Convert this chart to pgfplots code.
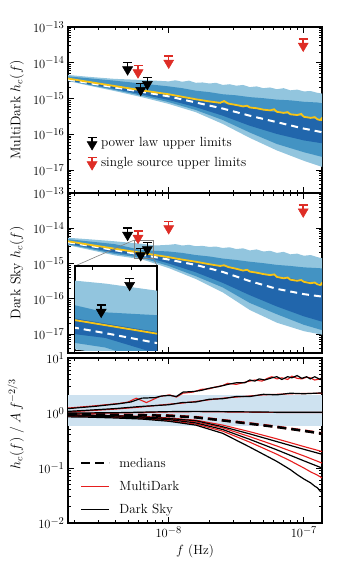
\RequirePackage{fix-cm}
\documentclass[border=0pt]{standalone}
\usepackage{pgfplots}
\usepackage{pgfplotstable}
\pgfplotsset{compat=1.18}

\definecolor{bandlight}{RGB}{146,197,222}
\definecolor{bandmid}{RGB}{67,147,195}
\definecolor{banddark}{RGB}{33,102,172}
\definecolor{gold}{RGB}{248,196,20}
\definecolor{limred}{RGB}{222,45,38}
\definecolor{mdred}{RGB}{230,30,30}
\definecolor{ratioband}{RGB}{206,226,240}

\newcommand{\fsz}{\fontsize{13.3}{16}\selectfont}
\newcommand{\lsz}{\fontsize{14}{17}\selectfont}
% tick label 10^n with a slightly larger exponent
\newcommand{\tk}[1]{\fontsize{12.5}{14}\selectfont$10^{\mbox{\fontsize{10.5}{11}\selectfont$#1$}}$}

% upper-limit marker: cap at the value, arrow head below
\pgfdeclareplotmark{ulim}{%
  \pgfsetlinewidth{1.5pt}%
  \pgfpathmoveto{\pgfqpoint{-4.5pt}{0pt}}\pgfpathlineto{\pgfqpoint{4.5pt}{0pt}}%
  \pgfpathmoveto{\pgfqpoint{0pt}{0pt}}\pgfpathlineto{\pgfqpoint{0pt}{-5pt}}%
  \pgfusepathqstroke
  \pgfsetlinewidth{0.5pt}%
  \pgfpathmoveto{\pgfqpoint{-5pt}{-4pt}}\pgfpathlineto{\pgfqpoint{5pt}{-4pt}}%
  \pgfpathlineto{\pgfqpoint{0pt}{-12.5pt}}\pgfpathclose
  \pgfusepathqfillstroke}
\newcommand{\ulimimg}[1]{%
  \path[draw=none,fill=none] (0pt,-6pt) rectangle (22pt,6pt);
  \draw[#1,line width=1.5pt] (10.5pt,5pt) -- (19.5pt,5pt) (15pt,5pt) -- (15pt,0pt);
  \filldraw[#1,line width=0.5pt] (10pt,1pt) -- (20pt,1pt) -- (15pt,-7.5pt) -- cycle;}

\pgfplotsset{
  hcbase/.style={scale only axis, width=254pt,
    xmin=-8.745, xmax=-6.866, xtick={-8,-7},
    minor xtick={-8.699,-8.523,-8.398,-8.301,-8.222,-8.155,-8.097,-8.046,
                 -7.699,-7.523,-7.398,-7.301,-7.222,-7.155,-7.097,-7.046},
    major tick length=6pt, minor tick length=3pt,
    tick style={black,line width=0.8pt}, axis line style={line width=1.2pt},
    every axis y label/.style={at={(axis description cs:-0.16,0.5)},rotate=90,anchor=south},
  },
  hclog/.style={ytick={-17,-16,-15,-14,-13},
    yticklabels={\tk{-17},\tk{-16},\tk{-15},\tk{-14},\tk{-13}},
    minor ytick={-17.699,-17.523,-17.398,-17.301,-17.222,-17.155,-17.097,-17.046,
      -16.699,-16.523,-16.398,-16.301,-16.222,-16.155,-16.097,-16.046,
      -15.699,-15.523,-15.398,-15.301,-15.222,-15.155,-15.097,-15.046,
      -14.699,-14.523,-14.398,-14.301,-14.222,-14.155,-14.097,-14.046,
      -13.699,-13.523,-13.398,-13.301,-13.222,-13.155,-13.097,-13.046},
  },
}

% log10 f, log10 h_c ; bands are closed polygons (upper edge, then lower edge back)
\pgfplotstableread{
x y
-8.745 -14.34
-8.6 -14.39
-8.4 -14.45
-8.2 -14.48
-8.1 -14.50
-8.0 -14.52
-7.95 -14.49
-7.9 -14.53
-7.85 -14.50
-7.8 -14.56
-7.75 -14.55
-7.7 -14.58
-7.65 -14.56
-7.6 -14.62
-7.55 -14.60
-7.5 -14.64
-7.45 -14.62
-7.4 -14.68
-7.35 -14.66
-7.3 -14.71
-7.25 -14.69
-7.2 -14.74
-7.15 -14.71
-7.1 -14.77
-7.05 -14.75
-7.0 -14.80
-6.95 -14.79
-6.9 -14.84
-6.866 -14.86
-6.866 -16.91
-7.0 -16.74
-7.2 -16.45
-7.4 -16.10
-7.6 -15.71
-7.8 -15.38
-8.0 -15.15
-8.2 -14.96
-8.4 -14.79
-8.6 -14.63
-8.745 -14.51
}\mdLight
\pgfplotstableread{
x y
-8.745 -14.38
-8.6 -14.43
-8.4 -14.50
-8.2 -14.58
-8.0 -14.66
-7.9 -14.71
-7.8 -14.78
-7.7 -14.82
-7.6 -14.88
-7.5 -14.91
-7.4 -14.96
-7.3 -14.99
-7.2 -15.03
-7.1 -15.05
-7.0 -15.09
-6.9 -15.11
-6.866 -15.13
-6.866 -16.63
-7.0 -16.50
-7.2 -16.27
-7.4 -15.95
-7.6 -15.60
-7.8 -15.32
-8.0 -15.10
-8.2 -14.92
-8.4 -14.76
-8.6 -14.61
-8.745 -14.50
}\mdMid
\pgfplotstableread{
x y
-8.745 -14.43
-8.6 -14.52
-8.4 -14.64
-8.2 -14.76
-8.0 -14.87
-7.8 -15.01
-7.6 -15.13
-7.4 -15.26
-7.2 -15.39
-7.0 -15.51
-6.866 -15.61
-6.866 -16.25
-7.0 -16.17
-7.2 -15.99
-7.4 -15.76
-7.6 -15.48
-7.8 -15.24
-8.0 -15.04
-8.2 -14.88
-8.4 -14.73
-8.6 -14.59
-8.745 -14.49
}\mdDark
\pgfplotstableread{
x y
-8.745 -14.47
-8.6 -14.56
-8.4 -14.69
-8.2 -14.81
-8.0 -14.94
-7.8 -15.11
-7.6 -15.28
-7.4 -15.48
-7.2 -15.66
-7.0 -15.84
-6.866 -15.94
}\mdMed
\pgfplotstableread{
x y
-8.745 -14.44
-8.6 -14.53
-8.4 -14.65
-8.2 -14.77
-8.0 -14.88
-7.9 -14.95
-7.8 -15.02
-7.7 -15.08
-7.62 -15.12
-7.59 -15.07
-7.56 -15.14
-7.5 -15.18
-7.45 -15.22
-7.42 -15.20
-7.4 -15.25
-7.35 -15.27
-7.3 -15.31
-7.25 -15.33
-7.22 -15.30
-7.2 -15.37
-7.15 -15.40
-7.12 -15.38
-7.1 -15.44
-7.05 -15.46
-7.02 -15.43
-7.0 -15.51
-6.95 -15.54
-6.92 -15.52
-6.9 -15.58
-6.88 -15.60
-6.87 -15.56
-6.866 -15.62
}\mdGold

\pgfplotstableread{
x y
-8.745 -14.27
-8.6 -14.31
-8.4 -14.37
-8.2 -14.44
-8.1 -14.49
-8.0 -14.47
-7.95 -14.45
-7.9 -14.49
-7.85 -14.47
-7.8 -14.51
-7.75 -14.50
-7.7 -14.53
-7.65 -14.52
-7.6 -14.56
-7.55 -14.54
-7.5 -14.59
-7.45 -14.57
-7.4 -14.63
-7.35 -14.60
-7.3 -14.66
-7.25 -14.64
-7.2 -14.70
-7.15 -14.67
-7.1 -14.74
-7.05 -14.72
-7.0 -14.78
-6.95 -14.76
-6.9 -14.82
-6.866 -14.85
-6.866 -17.02
-7.0 -16.92
-7.2 -16.68
-7.4 -16.32
-7.6 -15.82
-7.8 -15.44
-8.0 -15.13
-8.2 -14.88
-8.4 -14.77
-8.6 -14.60
-8.745 -14.48
}\dsLight
\pgfplotstableread{
x y
-8.745 -14.31
-8.6 -14.37
-8.4 -14.45
-8.2 -14.62
-8.0 -14.66
-7.9 -14.70
-7.8 -14.76
-7.7 -14.80
-7.6 -14.86
-7.5 -14.90
-7.4 -14.95
-7.3 -14.99
-7.2 -15.04
-7.1 -15.07
-7.0 -15.11
-6.9 -15.13
-6.866 -15.14
-6.866 -16.89
-7.0 -16.74
-7.2 -16.44
-7.4 -16.12
-7.6 -15.68
-7.8 -15.36
-8.0 -15.07
-8.2 -14.84
-8.4 -14.73
-8.6 -14.57
-8.745 -14.46
}\dsMid
\pgfplotstableread{
x y
-8.745 -14.36
-8.6 -14.45
-8.4 -14.57
-8.2 -14.69
-8.0 -14.81
-7.8 -14.94
-7.6 -15.08
-7.4 -15.22
-7.2 -15.36
-7.0 -15.49
-6.866 -15.58
-6.866 -16.65
-7.0 -16.50
-7.2 -16.22
-7.4 -15.90
-7.6 -15.55
-7.8 -15.25
-8.0 -15.00
-8.2 -14.78
-8.4 -14.69
-8.6 -14.54
-8.745 -14.44
}\dsDark
\pgfplotstableread{
x y
-8.745 -14.40
-8.6 -14.49
-8.4 -14.62
-8.2 -14.75
-8.0 -14.89
-7.8 -15.04
-7.6 -15.24
-7.4 -15.50
-7.2 -15.72
-7.0 -15.87
-6.866 -15.94
}\dsMed
\pgfplotstableread{
x y
-8.745 -14.37
-8.6 -14.46
-8.4 -14.58
-8.2 -14.70
-8.0 -14.82
-7.9 -14.89
-7.8 -14.95
-7.7 -15.02
-7.62 -15.07
-7.59 -15.05
-7.56 -15.10
-7.5 -15.15
-7.45 -15.20
-7.42 -15.18
-7.4 -15.23
-7.35 -15.26
-7.3 -15.30
-7.25 -15.33
-7.22 -15.31
-7.2 -15.38
-7.15 -15.42
-7.12 -15.40
-7.1 -15.46
-7.05 -15.49
-7.02 -15.47
-7.0 -15.52
-6.95 -15.56
-6.92 -15.54
-6.9 -15.59
-6.88 -15.61
-6.87 -15.57
-6.866 -15.62
}\dsGold

% upper limits (log10 f, log10 h_c)
\pgfplotstableread{
x y
-8.304 -13.999
-8.207 -14.575
-8.158 -14.407
}\plLim
\pgfplotstableread{
x y
-8.227 -14.083
-8.0 -13.811
-7.005 -13.336
}\ssLim

\begin{document}
\begin{tikzpicture}
\useasboundingbox (0,0) rectangle (339pt,-569pt);

% ---------------- MultiDark
\begin{axis}[hcbase, hclog, at={(68pt,-193pt)}, anchor=south west,
    height=166pt, ymin=-17.64, ymax=-13, xticklabels={},
    ylabel={\lsz MultiDark $h_c(f)$},
    legend style={at={(axis description cs:0.035,0.135)}, anchor=south west,
      draw=none, fill=none, font=\fsz, row sep=5pt, inner sep=0pt},
    legend cell align=left]
\addplot[fill=bandlight, draw=none, forget plot] table {\mdLight} -- cycle;
\addplot[fill=bandmid, draw=none, forget plot] table {\mdMid} -- cycle;
\addplot[fill=banddark, draw=none, forget plot] table {\mdDark} -- cycle;
\addplot[white, line width=2pt, dash pattern=on 7pt off 5pt, forget plot] table {\mdMed};
\addplot[gold, line width=1.8pt, forget plot] table {\mdGold};
\addplot[only marks, mark=ulim, mark options={draw=black,fill=black}, forget plot] table {\plLim};
\addplot[only marks, mark=ulim, mark options={draw=limred,fill=limred}, forget plot] table {\ssLim};
\addlegendimage{legend image code/.code={\ulimimg{black}}}
\addlegendentry{power law upper limits}
\addlegendimage{legend image code/.code={\ulimimg{limred}}}
\addlegendentry{single source upper limits}
\end{axis}

% ---------------- Dark Sky
\begin{axis}[hcbase, hclog, at={(68pt,-353pt)}, anchor=south west,
    height=160pt, ymin=-17.54, ymax=-13, xticklabels={},
    ylabel={\lsz Dark Sky $h_c(f)$}]
\addplot[fill=bandlight, draw=none] table {\dsLight} -- cycle;
\addplot[fill=bandmid, draw=none] table {\dsMid} -- cycle;
\addplot[fill=banddark, draw=none] table {\dsDark} -- cycle;
\addplot[white, line width=2pt, dash pattern=on 7pt off 5pt] table {\dsMed};
\addplot[gold, line width=1.8pt] table {\dsGold};
\addplot[only marks, mark=ulim, mark options={draw=black,fill=black}] table {\plLim};
\addplot[only marks, mark=ulim, mark options={draw=limred,fill=limred}] table {\ssLim};
\draw[gray, line width=0.6pt] (axis cs:-8.252,-14.33) rectangle (axis cs:-8.111,-14.86);
\coordinate (rA) at (axis cs:-8.252,-14.33);
\coordinate (rB) at (axis cs:-8.111,-14.86);
\end{axis}
\draw[gray, line width=0.6pt] (rA) -- (75pt,-266pt);
\draw[gray, line width=0.6pt] (rB) -- (157pt,-266pt);

% ---------------- inset
\begin{axis}[at={(75pt,-350.7pt)}, anchor=south west, scale only axis,
    width=82pt, height=84.7pt, xmin=-8.252, xmax=-8.111, ymin=-14.86, ymax=-14.33,
    xtick={-8.222,-8.155}, ytick={-14.699,-14.523}, xticklabels={}, yticklabels={},
    major tick length=4pt, tick style={black,line width=0.8pt},
    axis line style={line width=1.2pt},
    axis background/.style={fill=white}, clip marker paths=true]
\addplot[fill=bandlight, draw=none] table {\dsLight} -- cycle;
\addplot[fill=bandmid, draw=none] table {\dsMid} -- cycle;
\addplot[fill=banddark, draw=none] table {\dsDark} -- cycle;
\addplot[white, line width=2pt, dash pattern=on 7pt off 5pt] table {\dsMed};
\addplot[gold, line width=1.8pt] table {\dsGold};
\addplot[only marks, mark=ulim, mark options={draw=black,fill=black}] table {\plLim};
\end{axis}

% ---------------- ratio panel
\begin{axis}[hcbase, at={(68pt,-523pt)}, anchor=south west,
    height=165pt, ymin=-2, ymax=1,
    ytick={-2,-1,0,1}, yticklabels={\tk{-2},\tk{-1},\tk{0},\tk{1}},
    minor ytick={-1.699,-1.523,-1.398,-1.301,-1.222,-1.155,-1.097,-1.046,
      -0.699,-0.523,-0.398,-0.301,-0.222,-0.155,-0.097,-0.046,
      0.301,0.477,0.602,0.699,0.778,0.845,0.903,0.954},
    xticklabels={\tk{-8},\tk{-7}},
    xlabel={\fsz $f$ (Hz)},
    ylabel={\lsz $h_c(f)\;/\;A\,f^{-2/3}$},
    ylabel style={at={(axis description cs:-0.16,0.6)}},
    legend style={at={(axis description cs:0.047,0.034)}, anchor=south west,
      draw=none, fill=none, font=\fsz, row sep=8.5pt, inner sep=0pt},
    legend cell align=left,
    legend image code/.code={\draw[#1] (0pt,0pt) -- (28pt,0pt); \path[draw=none] (0pt,0pt) -- (36pt,0pt);}]
\addplot[fill=ratioband, draw=none, forget plot] coordinates {(-8.745,-0.23) (-6.866,-0.23) (-6.866,0.33) (-8.745,0.33)} -- cycle;
% MultiDark
\addplot[mdred, line width=1.1pt, forget plot] coordinates {(-8.745,0.09) (-8.55,0.13) (-8.363,0.175) (-8.30,0.20) (-8.24,0.27) (-8.165,0.19) (-8.067,0.30) (-7.993,0.33) (-7.943,0.29) (-7.894,0.36) (-7.82,0.38) (-7.76,0.43) (-7.70,0.44) (-7.659,0.47) (-7.60,0.50) (-7.563,0.54) (-7.50,0.52) (-7.437,0.56) (-7.40,0.58) (-7.363,0.60) (-7.31,0.58) (-7.27,0.63) (-7.237,0.66) (-7.20,0.62) (-7.163,0.64) (-7.12,0.61) (-7.089,0.67) (-7.05,0.63) (-7.015,0.62) (-6.98,0.65) (-6.953,0.64) (-6.92,0.60) (-6.879,0.62) (-6.866,0.64)};
\addplot[mdred, line width=1.1pt, forget plot] coordinates {(-8.745,0.02) (-8.6,0.04) (-8.4,0.07) (-8.2,0.11) (-8.0,0.16) (-7.9,0.18) (-7.8,0.21) (-7.7,0.24) (-7.6,0.27) (-7.5,0.29) (-7.4,0.31) (-7.3,0.33) (-7.2,0.34) (-7.1,0.35) (-7.0,0.355) (-6.866,0.36)};
\addplot[mdred, line width=1.1pt, forget plot] coordinates {(-8.745,-0.01) (-8.4,0.0) (-8.0,0.02) (-7.8,0.025) (-7.6,0.02) (-7.4,0.015) (-7.2,0.01) (-7.0,0.01) (-6.866,0.01)};
\addplot[mdred, line width=2.5pt, dash pattern=on 9pt off 5pt, forget plot] coordinates {(-8.745,-0.015) (-8.6,-0.02) (-8.4,-0.03) (-8.2,-0.035) (-8.0,-0.045) (-7.8,-0.075) (-7.6,-0.13) (-7.4,-0.19) (-7.2,-0.25) (-7.0,-0.32) (-6.866,-0.37)};
\addplot[mdred, line width=1.1pt, forget plot] coordinates {(-8.745,-0.03) (-8.6,-0.035) (-8.4,-0.045) (-8.2,-0.06) (-8.0,-0.09) (-7.8,-0.13) (-7.6,-0.22) (-7.4,-0.34) (-7.2,-0.47) (-7.0,-0.61) (-6.866,-0.70)};
\addplot[mdred, line width=1.1pt, forget plot] coordinates {(-8.745,-0.045) (-8.6,-0.05) (-8.4,-0.06) (-8.2,-0.08) (-8.0,-0.11) (-7.8,-0.16) (-7.6,-0.27) (-7.4,-0.43) (-7.2,-0.60) (-7.0,-0.78) (-6.866,-0.91)};
\addplot[mdred, line width=1.1pt, forget plot] coordinates {(-8.745,-0.06) (-8.6,-0.065) (-8.4,-0.08) (-8.2,-0.10) (-8.0,-0.14) (-7.8,-0.20) (-7.6,-0.33) (-7.4,-0.53) (-7.2,-0.75) (-7.1,-0.87) (-7.0,-1.0) (-6.95,-1.07) (-6.9,-1.13) (-6.866,-1.18)};
% Dark Sky
\addplot[black, line width=1.2pt, forget plot] coordinates {(-8.745,0.08) (-8.55,0.12) (-8.363,0.17) (-8.28,0.20) (-8.20,0.27) (-8.10,0.28) (-8.05,0.31) (-7.993,0.32) (-7.943,0.30) (-7.894,0.38) (-7.82,0.39) (-7.76,0.41) (-7.70,0.45) (-7.63,0.48) (-7.563,0.52) (-7.50,0.55) (-7.437,0.55) (-7.40,0.60) (-7.363,0.58) (-7.33,0.62) (-7.29,0.60) (-7.237,0.64) (-7.20,0.66) (-7.163,0.61) (-7.12,0.66) (-7.089,0.64) (-7.05,0.68) (-7.015,0.63) (-6.98,0.66) (-6.953,0.62) (-6.92,0.66) (-6.879,0.61) (-6.866,0.65)};
\addplot[black, line width=1.2pt, forget plot] coordinates {(-8.745,0.03) (-8.6,0.05) (-8.4,0.08) (-8.2,0.12) (-8.0,0.15) (-7.9,0.19) (-7.8,0.20) (-7.7,0.25) (-7.6,0.26) (-7.5,0.30) (-7.4,0.30) (-7.3,0.34) (-7.2,0.33) (-7.1,0.36) (-7.0,0.35) (-6.866,0.365)};
\addplot[black, line width=1.2pt, forget plot] coordinates {(-8.745,0.0) (-8.4,0.005) (-8.0,0.025) (-7.8,0.03) (-7.6,0.025) (-7.4,0.02) (-7.2,0.015) (-7.0,0.012) (-6.866,0.012)};
\addplot[black, line width=2.5pt, dash pattern=on 9pt off 5pt, forget plot] coordinates {(-8.745,-0.02) (-8.6,-0.025) (-8.4,-0.035) (-8.2,-0.04) (-8.0,-0.05) (-7.8,-0.08) (-7.6,-0.135) (-7.4,-0.195) (-7.2,-0.255) (-7.0,-0.325) (-6.866,-0.375)};
\addplot[black, line width=1.2pt, forget plot] coordinates {(-8.745,-0.035) (-8.6,-0.04) (-8.4,-0.05) (-8.2,-0.07) (-8.0,-0.10) (-7.8,-0.14) (-7.6,-0.25) (-7.4,-0.38) (-7.2,-0.52) (-7.0,-0.66) (-6.866,-0.75)};
\addplot[black, line width=1.2pt, forget plot] coordinates {(-8.745,-0.05) (-8.6,-0.055) (-8.4,-0.07) (-8.2,-0.09) (-8.0,-0.12) (-7.8,-0.18) (-7.6,-0.30) (-7.4,-0.48) (-7.2,-0.67) (-7.0,-0.87) (-6.866,-1.0)};
\addplot[black, line width=1.2pt, forget plot] coordinates {(-8.745,-0.07) (-8.6,-0.075) (-8.4,-0.09) (-8.2,-0.11) (-8.0,-0.15) (-7.8,-0.22) (-7.6,-0.37) (-7.4,-0.62) (-7.2,-0.88) (-7.1,-1.03) (-7.05,-1.12) (-7.0,-1.2) (-6.95,-1.27) (-6.92,-1.33) (-6.9,-1.36) (-6.88,-1.42) (-6.866,-1.44)};
\addlegendimage{black, line width=2.5pt, dash pattern=on 9pt off 5pt}
\addlegendentry{medians}
\addlegendimage{mdred, line width=1.1pt}
\addlegendentry{MultiDark}
\addlegendimage{black, line width=1.2pt}
\addlegendentry{Dark Sky}
\end{axis}
\end{tikzpicture}
\end{document}
